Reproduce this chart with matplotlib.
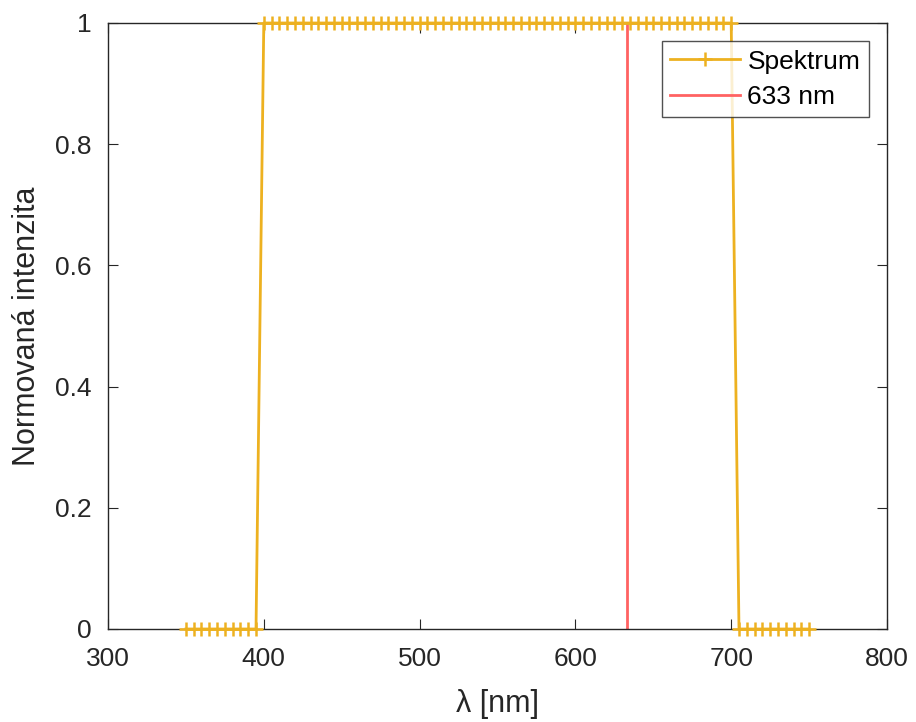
import numpy as np
import matplotlib
matplotlib.use("Agg")
import matplotlib.pyplot as plt

plt.rcParams['font.family'] = ['Liberation Sans', 'DejaVu Sans']

wl_low = [350, 355, 360, 365, 370, 375, 380, 385, 390, 395]
wl_mid = list(range(400, 701, 5))
wl_high = [705, 710, 715, 720, 725, 730, 735, 740, 745, 750]
wavelengths = wl_low + wl_mid + wl_high
intensity = [0]*len(wl_low) + [1]*len(wl_mid) + [0]*len(wl_high)
laser_wl = 633
laser_y = [0, 1]

fig = plt.figure(figsize=(9.16, 7.22), dpi=100)
ax = fig.add_axes([108/916, 1-629/722, (887-108)/916, (629-23)/722])

ax.plot(wavelengths, intensity, color='#EDB120', marker='+', markersize=10.5,
        markeredgewidth=1.8, linewidth=2, label='Spektrum', clip_on=False, zorder=3)
ax.plot([laser_wl, laser_wl], laser_y, color='#FF6262', linewidth=2, label='633 nm',
        zorder=2)

ax.set_xlim(300, 800)
ax.set_ylim(0, 1)
ax.set_xticks([300, 400, 500, 600, 700, 800])
ax.set_yticks([0, 0.2, 0.4, 0.6, 0.8, 1])
ax.set_yticklabels(['0', '0.2', '0.4', '0.6', '0.8', '1'])
ax.tick_params(direction='in', top=True, right=True, labelsize=19, length=7,
               color='#262626', labelcolor='#262626')
ax.tick_params(axis='y', pad=12)
ax.tick_params(axis='x', pad=13)
for s in ax.spines.values():
    s.set_color('#262626')
    s.set_linewidth(1)
ax.set_xlabel('λ [nm]', fontsize=22, color='#262626', labelpad=13)
ax.set_ylabel('Normovaná intenzita', fontsize=22, color='#262626', labelpad=9)

leg = ax.legend(loc='upper right', fontsize=19, frameon=True, fancybox=False,
                edgecolor='#262626', borderaxespad=0.68, handlelength=2.65,
                borderpad=0.33, labelspacing=0.42, handletextpad=0.27)
leg.get_frame().set_linewidth(1)
leg.set_zorder(5)

fig.savefig('out.png', dpi=100)
